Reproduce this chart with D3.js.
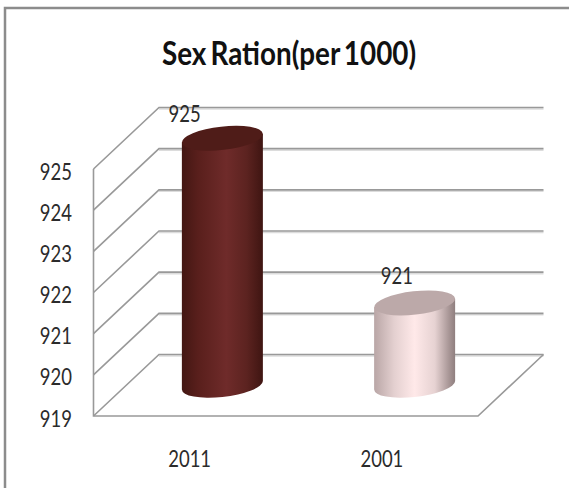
<!DOCTYPE html>
<html lang="en">
<head>
    <meta charset="UTF-8">
    <title>Sex Ration</title>
    <style>
        html, body { margin: 0; background: #fff; }
        svg { display: block; }
        text { font-family: Lato, "Open Sans", sans-serif; fill: #2b2b2b; }
    </style>
</head>
<body>
    <div id="chart"></div>
    <script src="https://d3js.org/d3.v7.min.js"></script>
    <script>
        const categories = ['2011', '2001']
        const sexRatio = [925, 921]
        const valueTicks = [919, 920, 921, 922, 923, 924, 925]
        const chartTitle = 'Sex Ration(per 1000)'

        const width = 569
        const height = 488
        // front plane of the fake 3d box, and how far the back wall is pushed
        const frontLeft = 93.5, frontRight = 478
        const frontBottom = 416, frontTop = 169
        const depthX = 65.5, depthY = -61.5
        // tilted ellipse of the cylinder ends
        const ellA = 40.7, ellB = 11.7, ellRot = -6.5
        const sideX = 40.5, sideY = 4.25
        // value labels are not centred on the cylinders in the original
        const labelDx = [-5, 15], labelDy = [-47, -50]
        // the text looks squeezed sideways, so it is drawn tall and scaled
        const squeeze = 'scale(.77,1)'

        const svg = d3.select('#chart').append('svg')
            .attr('width', width)
            .attr('height', height)

        const x = d3.scaleBand().domain(categories).range([frontLeft, frontRight])
        const y = d3.scaleLinear().domain([919, 925]).range([frontBottom, frontTop])

        const defs = svg.append('defs')
        function addGradient(id, stops) {
            defs.append('linearGradient').attr('id', id)
                .selectAll('stop')
                .data(stops)
                .enter()
                .append('stop')
                .attr('offset', d => d[0])
                .attr('stop-color', d => d[1])
        }
        addGradient('bar0', [[0, '#431713'], [.2, '#591f1c'], [.55, '#6f2b2a'], [.8, '#5c2320'], [1, '#3f1512']])
        addGradient('bar1', [[0, '#b9a6a6'], [.25, '#e4d0d0'], [.5, '#ffe9e9'], [.75, '#e6d2d2'], [.93, '#a69494'], [1, '#8f7f7f']])
        const topColors = ['#4f1c18', '#bca9a9']

        // chart frame, only top and left show in the crop
        svg.append('path')
            .attr('d', `M5,${height}V8H${width}`)
            .attr('fill', 'none')
            .attr('stroke', '#8c8c8c')
            .attr('stroke-width', 2.5)

        const line = d3.line()

        function gridPoints(v) {
            return [
                [frontLeft, y(v)],
                [frontLeft + depthX, y(v) + depthY],
                [frontRight + depthX, y(v) + depthY]
            ]
        }

        const walls = svg.append('g').attr('fill', 'none')

        // soft shadow under the lines
        walls.selectAll('.shadow')
            .data(valueTicks)
            .enter()
            .append('path')
            .attr('class', 'shadow')
            .attr('d', d => line(gridPoints(d).slice(1)))
            .attr('transform', 'translate(0,1.5)')
            .attr('stroke', '#dcdcdc')
            .attr('stroke-width', 1.5)

        walls.selectAll('.grid')
            .data(valueTicks)
            .enter()
            .append('path')
            .attr('class', 'grid')
            .attr('d', d => line(gridPoints(d)))
            .attr('stroke', '#999')
            .attr('stroke-width', 1.6)

        // left edge and floor
        walls.append('path')
            .attr('d', line([
                [frontLeft, y(925)],
                [frontLeft, y(919)],
                [frontRight, y(919)],
                [frontRight + depthX, y(919) + depthY]
            ]))
            .attr('stroke', '#999')
            .attr('stroke-width', 1.6)

        const bars = svg.append('g')
            .selectAll('g')
            .data(categories.map((c, i) => ({ c, v: sexRatio[i], i })))
            .enter()
            .append('g')
            .attr('transform', `translate(${depthX / 2},${depthY / 2})`)

        const cx = d => x(d.c) + x.bandwidth() / 2

        bars.append('path')
            .attr('d', d => {
                const t = y(d.v), b = y(919)
                return `M${cx(d) - sideX},${t + sideY}
                    L${cx(d) - sideX},${b + sideY}
                    A${ellA},${ellB} ${ellRot} 0 0 ${cx(d) + sideX},${b - sideY}
                    L${cx(d) + sideX},${t - sideY}Z`
            })
            .attr('fill', d => `url(#bar${d.i})`)

        bars.append('ellipse')
            .attr('rx', ellA)
            .attr('ry', ellB)
            .attr('transform', d => `translate(${cx(d)},${y(d.v)}) rotate(${ellRot})`)
            .attr('fill', d => topColors[d.i])

        // value labels sit above the cylinders
        svg.append('g')
            .selectAll('text')
            .data(sexRatio)
            .enter()
            .append('text')
            .attr('text-anchor', 'middle')
            .attr('font-size', 24)
            .attr('transform', (d, i) => `translate(${x(categories[i]) + x.bandwidth() / 2 + labelDx[i]},${y(d) + labelDy[i]}) ${squeeze}`)
            .text(d => d)

        const yAxis = d3.axisLeft(y)
            .tickValues(valueTicks)
            .tickSize(0)
            .tickFormat(d3.format('d'))

        svg.append('g')
            .attr('transform', 'translate(72,0)')
            .call(yAxis)
            .call(g => g.select('.domain').remove())
            .call(g => g.selectAll('text')
                .attr('x', 0)
                .attr('dy', 10)
                .attr('font-size', 24)
                .attr('transform', squeeze))

        const xAxis = d3.axisBottom(x).tickSize(0)

        svg.append('g')
            .attr('transform', 'translate(0,466.5)')
            .call(xAxis)
            .call(g => g.select('.domain').remove())
            .call(g => g.selectAll('text')
                .attr('y', 0)
                .attr('dy', 0)
                .attr('font-size', 24)
                .attr('transform', squeeze))

        svg.append('text')
            .attr('text-anchor', 'middle')
            .attr('font-size', 32)
            .attr('font-weight', 700)
            .attr('word-spacing', -3)
            .attr('transform', 'translate(289,65) scale(.87,1)')
            .style('fill', '#111')
            .text(chartTitle)
    </script>
</body>
</html>
